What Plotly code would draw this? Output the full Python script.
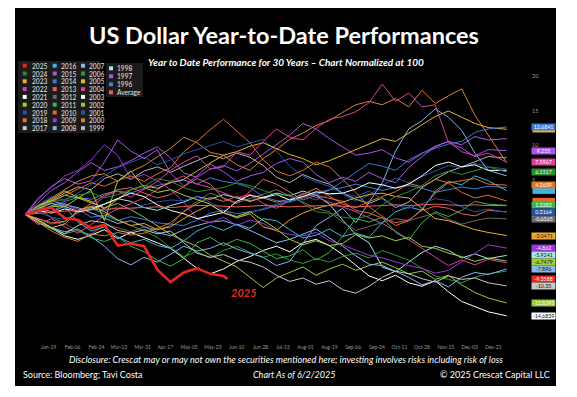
import pandas as pd
import plotly.graph_objects as go

# ---------------- data (percent change year-to-date) ----------------
DAYS = list(range(0, 360, 10)) + [364]
DAYS_2025 = list(range(0, 160, 10)) + [153]

Y1996 = [0,0.6,1.2,1.8, 2.5,2.2, 3.0,3.4,3.1, 3.8,4.2,4.6, 5.0,4.4,5.3, 4.8,4.5,3.9, 2.6,2.0,1.8, 2.4,3.1,3.6, 3.9,4.4,4.0, 3.5,3.9,4.2, 3.8,3.2,3.6, 4.0,3.7,4.1,3.9]
Y1997 = [0,1.8,3.5,4.6, 6.2,7.5, 6.4,6.9,7.8, 8.9,9.8,8.2, 6.0,5.4,6.6, 7.1,6.3,7.4, 8.8,10.2,11.5, 13.2,12.4,11.0, 9.8,8.6,8.9, 9.4,8.2,7.6, 8.8,9.9,10.6, 10.1,11.3,10.8,11.0]
Y1998 = [0,0.9,1.6,1.2, 0.4,0.9, 1.5,2.3,1.9, 1.0,0.6,1.3, 1.8,2.6,2.2, 2.9,2.4,1.9, 2.5,3.1,2.7, 3.4,2.8,1.5, -0.8,-2.9,-4.1, -7.6,-8.3,-6.9, -5.5,-4.6,-5.2, -6.3,-5.7,-6.4,-5.9241]
Y1999 = [0,1.2,2.0,3.1, 4.0,3.6, 5.2,5.9,5.1, 6.3,6.9,6.1, 7.0,7.8,8.6, 8.1,8.9,8.3, 7.1,5.4,4.6, 5.8,5.0,4.4, 3.1,2.2,1.6, 2.4,1.0,1.8, 3.9,5.1,6.2, 6.9,7.6,8.4,8.2]
Y2000 = [0,1.2,2.3,3.6, 4.8,5.6, 5.9,4.8,6.2, 7.1,8.3,9.6, 11.2,10.4,9.0, 8.6,7.2,6.4, 8.1,9.4,10.9, 11.8,12.9,13.6, 14.8,15.9,16.4, 15.9,16.8,15.6, 18.0,16.1,17.2, 18.2,14.4,11.6,7.5]
Y2001 = [0,1.4,2.6,2.0, 3.1,4.4, 5.6,6.8,7.5, 8.3,7.2,7.9, 8.8,9.4,9.9, 10.6,9.8,10.4, 10.9,9.2,7.0, 5.6,4.7,4.1, 3.0,1.9,2.8, 4.2,5.3,4.6, 5.5,6.3,7.1, 6.8,7.4,6.9,6.6]
Y2002 = [0,0.8,1.9,2.8, 2.4,1.7, 1.0,1.6,0.7, -0.4,-1.6,-2.9, -3.8,-4.6,-5.9, -6.8,-7.6,-9.1, -10.6,-9.2,-8.4, -7.6,-8.8,-7.9, -7.2,-8.1,-7.4, -6.9,-7.7,-8.6, -8.2,-9.4,-8.8, -10.2,-11.3,-12.1,-12.8295]
Y2003 = [0,-1.2,-2.0,-3.1, -3.6,-3.0, -2.2,-3.5,-2.6, -3.3,-4.1,-4.9, -6.4,-7.8,-8.6, -7.9,-6.8,-6.1, -5.2,-4.6,-5.4, -4.1,-3.6,-4.5, -5.8,-7.4,-8.9, -9.6,-8.8,-9.9, -10.4,-9.6,-11.2, -12.6,-13.4,-14.1,-14.6839]
Y2004 = [0,-1.5,-0.6,-1.8, -2.7,-1.4, -0.2,0.8,1.6, 2.4,3.6,4.8, 5.6,4.4,3.9, 3.1,2.4,2.9, 1.6,0.9,2.0, 3.1,2.5,1.8, 1.2,0.4,-0.5, -1.3,-2.4,-3.6, -4.9,-6.2,-7.4, -6.6,-7.3,-6.5,-7.0]
Y2005 = [0,1.3,2.2,3.4, 2.5,1.9, 0.8,2.2,3.6, 4.2,3.8,4.6, 5.1,6.3,7.4, 8.6,9.1,9.9, 10.4,9.6,8.7, 8.1,7.2,7.8, 8.6,9.3,10.2, 11.0,10.6,11.8, 12.9,14.2,15.0, 14.1,13.2,12.6,12.35]
Y2006 = [0,-0.6,-1.4,-1.0, 0.3,0.9, 0.1,-0.8,-1.6, -2.4,-3.3,-4.8, -6.1,-5.4,-6.3, -5.2,-4.6,-5.5, -6.2,-5.7,-6.6, -7.1,-6.4,-6.9, -6.1,-5.6,-6.3, -5.2,-5.9,-6.6, -7.8,-8.9,-9.4, -9.9,-9.1,-8.6,-8.2]
Y2007 = [0,1.1,2.0,1.4, 1.0,0.2, -0.6,-1.3,-0.9, -1.8,-2.6,-3.1, -2.2,-1.6,-1.1, -0.9,-1.5,-2.3, -3.2,-4.1,-3.6, -2.8,-2.1,-3.4, -4.6,-6.0,-7.2, -7.4,-8.3,-9.1, -10.2,-9.6,-10.5, -9.1,-8.4,-8.7,-7.896]
Y2008 = [0,-0.8,-1.9,-2.5, -2.1,-3.2, -4.6,-6.4,-7.3, -6.2,-6.9,-5.8, -4.6,-5.3,-4.9, -4.1,-5.0,-5.6, -6.2,-7.4,-6.8, -4.2,-1.6,-0.4, 0.9,-1.2,1.8, 4.6,9.2,12.4, 13.6,15.3,14.1, 12.2,8.9,6.4,5.6]
Y2009 = [0,2.4,3.9,5.6, 6.4,7.9, 10.1,8.6,5.2, 5.8,4.9,3.6, 1.8,-0.6,-1.2, -0.4,-1.6,-0.8, -1.3,-2.4,-2.9, -3.1,-2.6,-3.8, -4.4,-5.2,-5.9, -6.3,-6.9,-7.4, -7.8,-8.5,-8.1, -6.9,-5.7,-4.4,-4.862]
Y2010 = [0,0.6,1.8,2.8, 3.7,4.6, 4.1,4.9,5.6, 4.8,5.9,6.8, 9.1,10.6,12.3, 13.8,12.1,10.4, 7.9,6.3,5.6, 6.4,7.6,6.9, 5.1,3.2,1.1, -0.3,-1.6,-0.9, 0.8,3.1,4.6, 3.2,2.4,2.8,1.95]
Y2011 = [0,-0.9,-2.1,-2.8, -2.3,-3.4, -3.9,-3.2,-4.6, -5.4,-6.6,-7.5, -6.4,-4.1,-3.3, -4.5,-3.6,-4.2, -5.3,-6.4,-6.0, -5.1,-6.6,-5.5, -3.2,-0.6,-1.1, -0.4,-2.6,-3.7, -1.2,0.4,-0.3, 0.6,1.9,1.5,1.3282]
Y2012 = [0,0.8,-0.4,-1.3, -2.4,-2.9, -1.5,-1.9,-2.5, -1.8,-2.2,-1.6, 0.5,1.9,3.1, 2.4,1.7,2.3, 2.9,3.6,2.7, 1.8,0.9,0.4, -1.1,-2.3,-1.7, -1.2,-0.6,-0.9, -0.3,0.2,-0.7, -1.4,-0.9,-0.5,-0.6365]
Y2013 = [0,-0.6,-1.2,-1.0, 0.4,1.6, 2.8,3.6,3.9, 3.1,2.4,2.9, 4.1,5.2,4.4, 2.3,1.6,3.4, 5.1,4.4,3.2, 2.1,2.8,2.4, 1.9,0.6,0.2, -0.5,-1.2,-0.8, 0.6,1.2,0.9, 0.1,-0.2,0.6,0.4]
Y2014 = [0,0.6,1.2,1.6, 0.8,-0.4, -0.1,-0.9,-0.3, -0.7,-1.2,-1.4, -1.6,-0.8,0.2, 0.6,0.1,0.4, 0.7,1.3,2.0, 2.6,2.9,3.5, 4.8,6.1,7.4, 7.0,6.4,7.9, 8.9,9.6,10.2, 10.6,11.9,12.4,12.6841]
Y2015 = [0,2.2,4.1,5.2, 4.4,4.9, 7.6,10.8,9.2, 8.1,9.4,6.0, 4.1,5.6,7.3, 6.2,4.8,5.6, 6.1,7.4,8.1, 7.6,5.8,4.6, 5.4,4.8,6.1, 5.2,4.6,6.8, 8.4,9.8,10.6, 9.1,8.5,9.4,9.255]
Y2016 = [0,0.9,0.4,1.2, -1.1,-2.4, -1.8,-3.3,-4.1, -3.6,-4.5,-4.9, -3.8,-2.4,-1.6, -2.3,-1.4,-2.0, -0.6,-0.9,-2.2, -3.4,-3.0,-2.1, -3.2,-2.7,-3.3, -1.2,0.4,1.1, 0.6,3.4,4.8, 4.3,5.6,4.9,3.45]
Y2017 = [0,-0.8,-1.9,-2.8, -1.6,-0.9, -1.2,-2.3,-2.7, -2.2,-2.8,-2.4, -4.1,-5.6,-6.2, -5.8,-6.6,-6.9, -7.6,-8.8,-9.7, -9.2,-10.1,-9.6, -10.9,-11.4,-10.4, -9.1,-8.2,-8.6, -9.3,-9.8,-8.9, -9.4,-9.2,-9.9,-10.35]
Y2018 = [0,-1.1,-2.4,-3.3, -3.9,-2.8, -3.1,-2.6,-3.0, -2.7,-2.0,-1.2, 0.4,1.6,2.5, 1.9,2.6,2.0, 2.4,1.8,2.2, 2.9,3.8,2.6, 1.5,1.0,1.9, 2.6,3.3,4.5, 4.0,5.1,4.6, 4.9,5.2,4.4,4.2639]
Y2019 = [0,0.3,-0.4,-0.7, 0.2,0.8, 0.5,1.1,0.7, 1.4,1.8,2.1, 2.0,2.6,1.8, 0.6,-0.4,0.2, 0.9,1.5,2.2, 2.7,2.1,2.9, 3.1,2.6,3.4, 2.2,1.3,0.9, 1.6,2.3,2.0, 1.1,0.4,0.8,0.3164]
Y2020 = [0,0.4,1.2,1.1, 2.4,3.5, -0.9,4.8,6.3, 3.9,3.2,3.6, 2.8,2.1,1.5, 0.2,-0.3,0.4, -0.8,-2.1,-3.6, -4.4,-3.8,-4.5, -4.2,-2.9,-3.4, -3.1,-3.8,-3.3, -4.6,-4.9,-5.6, -6.1,-6.8,-6.3,-6.7479]
Y2021 = [0,0.6,0.2,0.8, 0.4,0.7, 1.5,2.3,3.1, 2.6,1.4,0.6, 0.1,-0.6,-0.2, 0.3,1.9,2.8, 2.4,2.9,2.1, 2.6,3.3,3.0, 3.1,3.7,4.6, 4.3,3.8,4.4, 5.6,7.1,7.6, 6.9,7.2,6.4,6.4]
Y2022 = [0,0.8,0.4,1.6, 0.5,1.1, 2.6,3.4,2.5, 3.6,4.8,6.4, 7.6,8.5,6.6, 6.9,9.1,8.6, 10.6,12.4,11.2, 10.8,12.5,13.8, 14.2,14.9,16.2, 18.9,16.4,17.6, 15.6,15.9,10.4, 9.6,8.4,8.9,7.5967]
Y2023 = [0,-0.8,-1.9,-1.4, 0.6,1.2, 0.4,-0.8,-1.6, -1.3,-2.2,-1.8, -0.6,0.5,1.4, 0.3,-0.5,0.1, -1.8,-2.3,-0.8, 0.2,0.9,1.3, 1.8,2.4,2.9, 3.1,2.6,2.4, 0.9,-0.6,-0.9, -1.5,-2.2,-2.6,-3.0471]
Y2024 = [0,1.1,1.8,2.2, 2.8,3.2, 2.4,2.9,3.6, 4.1,5.2,4.8, 3.9,3.3,3.6, 3.9,4.6,4.2, 3.5,2.8,2.9, 1.6,0.4,0.2, -0.4,-0.6,-0.2, 1.4,2.6,3.3, 4.2,5.6,6.3, 5.8,6.4,6.9,6.1517]
Y2025 = [0,0.6,1.0,-0.5, -0.8,-2.0, -1.5,-4.5,-4.2, -4.6,-8.0,-9.8, -8.4,-7.8,-8.6, -8.9,-9.3588]
AVERAGE = [0,0.2,0.3,0.5, 0.6,0.7, 0.8,0.9,0.9, 1.0,1.1,1.0, 1.2,1.3,1.3, 1.2,1.1,1.2, 1.3,1.2,1.1, 1.2,1.3,1.3, 1.2,1.1,1.2, 1.3,1.4,1.3, 1.4,1.5,1.4, 1.3,1.4,1.3,1.3]

SERIES = {
    "1996": Y1996, "1997": Y1997, "1998": Y1998, "1999": Y1999, "2000": Y2000,
    "2001": Y2001, "2002": Y2002, "2003": Y2003, "2004": Y2004, "2005": Y2005,
    "2006": Y2006, "2007": Y2007, "2008": Y2008, "2009": Y2009, "2010": Y2010,
    "2011": Y2011, "2012": Y2012, "2013": Y2013, "2014": Y2014, "2015": Y2015,
    "2016": Y2016, "2017": Y2017, "2018": Y2018, "2019": Y2019, "2020": Y2020,
    "2021": Y2021, "2022": Y2022, "2023": Y2023, "2024": Y2024, "Average": AVERAGE,
}
for k, v in SERIES.items():
    assert len(v) == len(DAYS), (k, len(v))
assert len(Y2025) == len(DAYS_2025)

TICK_LABELS = ["Jan-19", "Feb-06", "Feb-24", "Mar-13", "Mar-31", "Apr-17", "May-05", "May-23",
               "Jun-10", "Jun-28", "Jul-15", "Aug-01", "Aug-19", "Sep-06", "Sep-24", "Oct-11",
               "Oct-28", "Nov-15", "Dec-03", "Dec-21"]
Y_TICKS = [5, 10, 15, 20]

LEGEND_COLS = [
    ["2025", "2024", "2023", "2022", "2021", "2020", "2019", "2018", "2017"],
    ["2016", "2015", "2014", "2013", "2012", "2011", "2010", "2009", "2008"],
    ["2007", "2006", "2005", "2004", "2003", "2002", "2001", "2000", "1999"],
    ["1998", "1997", "1996", "Average"],
]
# end-value tags: those hidden behind others, then the readable ones
HIDDEN_TAGS = ["2005", "2016", "2010"]
TAGGED = ["2014", "2015", "2022", "2024", "2018", "2011", "2019", "2012", "2023",
          "2009", "1998", "2020", "2007", "2025", "2017", "2002", "2003"]

# ---------------- styles ----------------
COLORS = {
    "2025": "#e8261e", "2024": "#2e8b2e", "2023": "#f0a83a", "2022": "#d8429c", "2021": "#ffffff",
    "2020": "#9bd438", "2019": "#2453a8", "2018": "#d9782a", "2017": "#c8c8c8",
    "2016": "#3fb4e6", "2015": "#a855e8", "2014": "#3c78d8", "2013": "#e8605a", "2012": "#6a6a6a",
    "2011": "#3cb44a", "2010": "#e8682a", "2009": "#9a36dc", "2008": "#7ab4f0",
    "2007": "#8ab8ee", "2006": "#2e9a34", "2005": "#e8b42a", "2004": "#d8429c", "2003": "#ffffff",
    "2002": "#98c83a", "2001": "#2453a8", "2000": "#d9822e", "1999": "#b4b4b4",
    "1998": "#a8e6ea", "1997": "#a855e8", "1996": "#3c80d4", "Average": "#e8605a",
}
FONT = "Lato, 'Open Sans', sans-serif"
OFF = 8                       # page body margin of the browser
W, H = 577 - OFF, 397 - OFF   # figure size
PL, PR, PT, PB = 25, 508, 60, 335   # plot area in page pixels
ZERO_PX, PX_PER_UNIT = 214.5, 6.9
BASE = pd.Timestamp("2001-01-01")


def px_x(px):
    return (px - PL) / (PR - PL)


def px_y(py):
    return (PB - py) / (PB - PT)


def to_dates(days):
    return [BASE + pd.Timedelta(days=d) for d in days]


fig = go.Figure()
for name, vals in SERIES.items():
    fig.add_trace(go.Scatter(x=to_dates(DAYS), y=vals, mode="lines", name=name,
                             line=dict(color=COLORS[name], width=1), showlegend=False))
fig.add_trace(go.Scatter(x=to_dates(DAYS_2025), y=Y2025, mode="lines", name="2025",
                         line=dict(color=COLORS["2025"], width=2.6), showlegend=False))

shapes = [
    dict(type="rect", xref="paper", yref="paper", x0=px_x(15), x1=px_x(556), y0=px_y(386), y1=px_y(8),
         fillcolor="#000000", line=dict(width=0), layer="below"),
    dict(type="rect", xref="paper", yref="paper", x0=px_x(18), x1=px_x(100), y0=px_y(133), y1=px_y(61),
         fillcolor="#1b1b1b", line=dict(width=0), layer="below"),
    dict(type="rect", xref="paper", yref="paper", x0=px_x(106), x1=px_x(143), y0=px_y(97), y1=px_y(63),
         fillcolor="#1b1b1b", line=dict(width=0), layer="below"),
]
ann = []

# titles and footer
ann.append(dict(text="US Dollar Year-to-Date Performances", x=px_x(284), y=px_y(35),
                font=dict(family=FONT, size=23.5, color="white", weight="bold")))
ann.append(dict(text="<b><i>Year to Date Performance for 30 Years – Chart Normalized at 100</i></b>",
                x=px_x(286), y=px_y(62), font=dict(family=FONT, size=10, color="white")))
ann.append(dict(text="<i>Disclosure: Crescat may or may not own the securities mentioned here; investing involves risks including risk of loss</i>",
                x=px_x(286), y=px_y(359), font=dict(family=FONT, size=9.2, color="white")))
ann.append(dict(text="Source: Bloomberg; Tavi Costa", x=px_x(21), y=px_y(374), xanchor="left",
                font=dict(family=FONT, size=9, color="white")))
ann.append(dict(text="<i>Chart As of 6/2/2025</i>", x=px_x(294), y=px_y(374),
                font=dict(family=FONT, size=9, color="white")))
ann.append(dict(text="© 2025 Crescat Capital LLC", x=px_x(552), y=px_y(374), xanchor="right",
                font=dict(family=FONT, size=9, color="white")))
ann.append(dict(text="<b><i>2025</i></b>", x=px_x(244), y=px_y(292),
                font=dict(family=FONT, size=11, color=COLORS["2025"])))

# legend (manual, compact)
SQ_X = [24.7, 54.7, 83.0, 111.0]
TX_X = [29.5, 58.7, 86.7, 115.0]
for c, col in enumerate(LEGEND_COLS):
    y0 = 68.3 if c == 3 else 65.7
    step = 8.0 if c == 3 else 7.8
    for r, name in enumerate(col):
        yc = y0 + r * step
        shapes.append(dict(type="rect", xref="paper", yref="paper",
                           x0=px_x(SQ_X[c] - 2), x1=px_x(SQ_X[c] + 2),
                           y0=px_y(yc + 2), y1=px_y(yc - 2),
                           fillcolor=COLORS[name], line=dict(width=0)))
        ann.append(dict(text=name, x=px_x(TX_X[c]), y=px_y(yc), xanchor="left",
                        font=dict(family=FONT, size=6.6, color="#e6e6e6")))


def text_color(hexc):
    r, g, b = int(hexc[1:3], 16), int(hexc[3:5], 16), int(hexc[5:7], 16)
    return "#111111" if (0.299 * r + 0.587 * g + 0.114 * b) > 170 else "#ffffff"


def end_value(name):
    return Y2025[-1] if name == "2025" else SERIES[name][-1]


TAG_X0, TAG_X1, TAG_H = 532.5, 555.0, 6.4
half = TAG_H / 2 / PX_PER_UNIT
# tags partly covered by others: coloured boxes only
for name in HIDDEN_TAGS:
    v = end_value(name)
    shapes.append(dict(type="rect", xref="paper", yref="y", x0=px_x(TAG_X0), x1=px_x(TAG_X1),
                       y0=v - half, y1=v + half, fillcolor=COLORS[name], line=dict(width=0)))
# readable tags, pushed apart so they do not overlap
gap = (TAG_H + 0.3) / PX_PER_UNIT
prev = None
for name in sorted(TAGGED, key=end_value, reverse=True):
    v = end_value(name)
    pos = v if prev is None else min(v, prev - gap)
    prev = pos
    ann.append(dict(text=f"{v:g}", xref="paper", yref="y", x=px_x((TAG_X0 + TAG_X1) / 2), y=pos,
                    width=TAG_X1 - TAG_X0, height=TAG_H - 0.6, borderpad=0.3, bgcolor=COLORS[name],
                    font=dict(family=FONT, size=5.3, color=text_color(COLORS[name]))))

for a in ann:
    a.setdefault("xref", "paper")
    a.setdefault("yref", "paper")
    a.setdefault("xanchor", "center")
    a.setdefault("yanchor", "middle")
    a["showarrow"] = False

fig.update_layout(
    width=W, height=H, margin=dict(l=PL - OFF, r=577 - PR, t=PT - OFF, b=397 - PB),
    paper_bgcolor="white", plot_bgcolor="black",
    shapes=shapes, annotations=ann, showlegend=False,
    xaxis=dict(range=[BASE, BASE + pd.Timedelta(days=365)], showgrid=False, zeroline=False,
               tickvals=[pd.to_datetime("2001-" + t, format="%Y-%b-%d") for t in TICK_LABELS],
               ticktext=TICK_LABELS, ticks="outside", ticklen=7, tickcolor="black",
               tickfont=dict(family=FONT, size=5, color="#9a9a9a"), showline=False),
    yaxis=dict(range=[-(PB - ZERO_PX) / PX_PER_UNIT, (ZERO_PX - PT) / PX_PER_UNIT], side="right",
               showgrid=False, zeroline=False, tickvals=Y_TICKS, ticktext=[str(t) for t in Y_TICKS],
               ticks="outside", ticklen=22, tickcolor="black",
               tickfont=dict(family=FONT, size=5.5, color="#9a9a9a"), showline=False),
)
fig.write_html("out.html")
